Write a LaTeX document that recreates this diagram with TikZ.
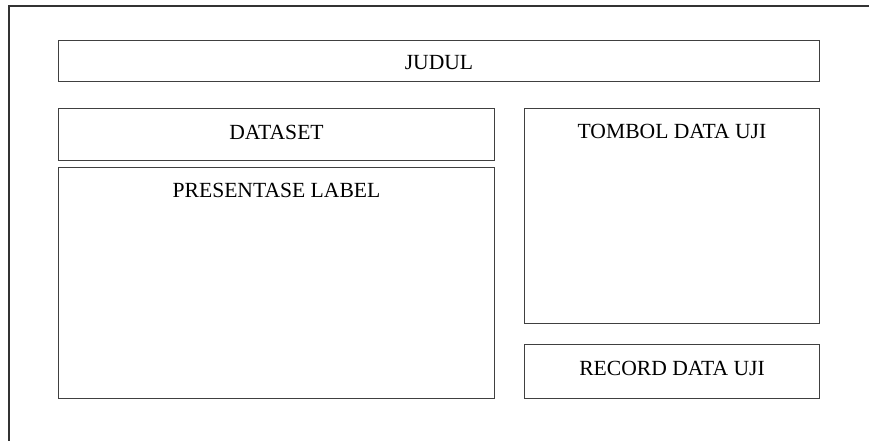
\documentclass[tikz,border=0pt]{standalone}
\usepackage{fontspec}
\setmainfont{Liberation Serif}
\usetikzlibrary{positioning}

\begin{document}
\begin{tikzpicture}[
    kotak/.style={draw=black!75,line width=0.75pt,inner sep=0pt},
    teks/.style={font=\fontsize{16.2}{19}\selectfont},
    atas/.style={label={[teks,anchor=center,yshift=-17.25pt]north:#1}}
  ]
    \useasboundingbox (0,0) rectangle (651.75pt,-330.75pt);
    \draw[black!80,line width=1.5pt] (6.75pt,-330.75pt) -- (6.75pt,-4.5pt) -- (651.75pt,-4.5pt);

    \node[kotak,minimum width=570.75pt,minimum height=30.75pt,anchor=north west] (judul) at (43.5pt,-30pt) {};
    \node[kotak,minimum width=327pt,minimum height=39pt,below right=19.5pt and 0pt of judul.south west] (dataset) {};
    \node[kotak,minimum width=327pt,minimum height=173.25pt,below right=4.5pt and 0pt of dataset.south west,atas={PRESENTASE LABEL}] (presentase) {};
    \node[kotak,minimum width=221.25pt,minimum height=161.25pt,below left=19.5pt and 0pt of judul.south east,atas={TOMBOL DATA UJI}] (tombol) {};
    \node[kotak,minimum width=221.25pt,minimum height=40.5pt,below left=15pt and 0pt of tombol.south east] (record) {};

    % teks di dalam kotak
    \node[teks,yshift=-1.5pt] (tjudul) at (judul.center) {JUDUL};
    \node[teks,yshift=1.5pt] (tdataset) at (dataset.center) {DATASET};
    \node[teks,yshift=2pt] (trecord) at (record.center) {RECORD DATA UJI};
\end{tikzpicture}
\end{document}
